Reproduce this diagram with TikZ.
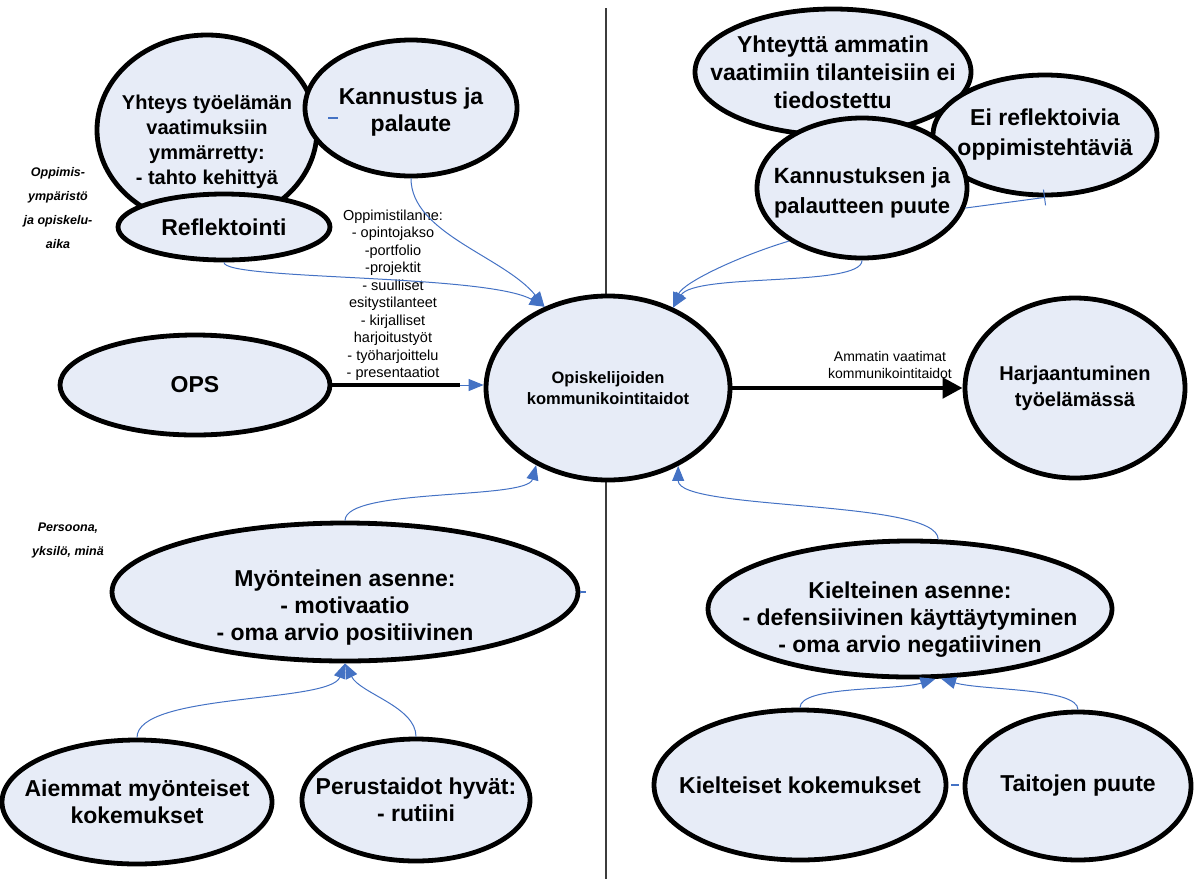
\documentclass[tikz,border=0pt]{standalone}
\usepackage{fontspec}
\setmainfont{Liberation Sans}
\usetikzlibrary{shapes.geometric,arrows.meta,calc}
\definecolor{bubfill}{RGB}{231,236,247}
\definecolor{linkblue}{RGB}{68,114,196}
\definecolor{divgray}{RGB}{60,60,60}
\tikzset{
	every node/.style = { align = center },
	bub/.style = { ellipse, draw, line width=4.8pt, fill=bubfill, inner sep=-60pt, font=\bfseries\fontsize{23}{27}\selectfont },
	bubs/.style = { bub, font=\bfseries\fontsize{20}{25}\selectfont },
	note/.style = { font=\fontsize{14.5}{17.5}\selectfont },
	side/.style = { font=\bfseries\itshape\fontsize{12.5}{24}\selectfont },
	link/.style = { draw=linkblue, line width=1pt, -{Triangle[length=15pt,width=12pt]} },
	stub/.style = { draw=linkblue, line width=1.2pt },
	flow/.style = { line width=4.8pt },
}
\begin{document}
\begin{tikzpicture}[x=1pt,y=-1pt]
\useasboundingbox (0,0) rectangle (1199,879);

\draw[divgray, line width=1.5pt] (606,8) -- (606,879);

\node (yht)    [bubs, text height=113pt, minimum width=220pt, minimum height=190pt] at (207,130) {Yhteys työelämän\\vaatimuksiin\\ymmärretty:\\- tahto kehittyä};
\node (kann)   [bub, text height=51pt, minimum width=212pt, minimum height=136pt] at (411,108) {Kannustus ja\\palaute};
\node (refl)   [bub, minimum width=212pt, minimum height=66pt] at (224,227) {Reflektointi};
\node (ops)    [bub, minimum width=270pt, minimum height=100pt] at (195,385) {OPS};
\node (opisk)  [bub, font=\bfseries\fontsize{16.5}{20.5}\selectfont, minimum width=244pt, minimum height=184pt] at (608,388) {Opiskelijoiden\\kommunikointitaidot};
\node (harj)   [bubs, font=\bfseries\fontsize{20}{26}\selectfont, minimum width=220pt, minimum height=180pt] at (1075,388) {Harjaantuminen\\työelämässä};

\node (yhtam)  [bub, font=\bfseries\fontsize{23}{28}\selectfont, minimum width=276pt, minimum height=126pt] at (833,72) {Yhteyttä ammatin\\vaatimiin tilanteisiin ei\\tiedostettu};
\node (erefl)  [bub, font=\bfseries\fontsize{23}{30}\selectfont, minimum width=224pt, minimum height=120pt] at (1045,135) {Ei reflektoivia\\oppimistehtäviä};
\node (kpuute) [bub, text height=55pt, font=\bfseries\fontsize{22}{30}\selectfont, minimum width=210pt, minimum height=140pt] at (862,188) {Kannustuksen ja\\palautteen puute};

\node (myont)  [bub, text height=102pt, minimum width=466pt, minimum height=138pt] at (345,592) {Myönteinen asenne:\\- motivaatio\\- oma arvio positiivinen};
\node (kielt)  [bub, text height=92pt, minimum width=404pt, minimum height=136pt] at (910,609) {Kielteinen asenne:\\- defensiivinen käyttäytyminen\\- oma arvio negatiivinen};
\node (aiem)   [bub, minimum width=270pt, minimum height=124pt] at (137,802) {Aiemmat myönteiset\\kokemukset};
\node (perus)  [bub, minimum width=228pt, minimum height=122pt] at (416,800) {Perustaidot hyvät:\\- rutiini};
\node (kielk)  [bub, minimum width=292pt, minimum height=150pt] at (800,785) {Kielteiset kokemukset};
\node (taito)  [bub, minimum width=226pt, minimum height=148pt] at (1078,786) {Taitojen puute};

\node (oppy)    [side] at (58,208) {Oppimis-\\ympäristö\\ja opiskelu-\\aika};
\node (pers)    [side] at (68,540) {Persoona,\\yksilö, minä};
\node (tilanne) [note] at (393,295) {Oppimistilanne:\\- opintojakso\\-portfolio\\-projektit\\- suulliset\\esitystilanteet\\- kirjalliset\\harjoitustyöt\\- työharjoittelu\\- presentaatiot};
\node (amm)     [note, font=\fontsize{14}{16.5}\selectfont] at (890,365) {Ammatin vaatimat\\kommunikointitaidot};

\draw[link] (kann.south) .. controls ($(kann.south)+(0,55)$) and ($(opisk.128)+(-40,-50)$) .. (opisk.128);
\draw[link] (refl.south) .. controls ($(refl.south)+(0,18)$) and ($(opisk.128)+(-58,-33)$) .. (opisk.128);
\draw[stub] ([shift={(-83,10)}]kann.center) -- ++(10,0);

\coordinate (opsend) at (460,385);
\draw[flow] (ops.east) -- (opsend);
\draw[link] (opsend) -- (opsend -| opisk.west);
\draw[flow, -{Triangle[length=20pt,width=20pt]}] (opisk.east) -- (harj.west);

\draw[link] (kpuute.-144) .. controls ($(kpuute.-144)+(-50,15)$) and ($(opisk.51)+(10,-25)$) .. (opisk.51);
\draw[link] (kpuute.south) .. controls ($(kpuute.south)+(0,27)$) and ($(opisk.51)+(22,-35)$) .. (opisk.51);
\draw[draw=linkblue, line width=1pt, -{Bar[width=16pt]}] (kpuute.-11) -- (erefl.south);

\draw[link] (myont.north) .. controls ($(myont.north)+(0,-33)$) and ($(opisk.-133)+(-9,35)$) .. (opisk.-133);
\draw[link] (kielt.68) .. controls ($(kielt.68)+(0,-40)$) and ($(opisk.-48)+(0,45)$) .. (opisk.-48);
\draw[stub] (myont.east) -- ++(6,0);

\draw[link] (aiem.north) .. controls ($(aiem.north)+(0,-45)$) and ($(myont.south)+(-15,40)$) .. (myont.south);
\draw[link] (perus.north) .. controls ($(perus.north)+(0,-30)$) and ($(myont.south)+(15,30)$) .. (myont.south);

\draw[link] (kielk.north) .. controls ($(kielk.north)+(0,-22)$) and ($(kielt.-70)+(-40,12)$) .. (kielt.-70);
\draw[link] (taito.north) .. controls ($(taito.north)+(0,-22)$) and ($(kielt.-66)+(40,12)$) .. (kielt.-66);
\draw[stub] ([xshift=3pt]kielk.east) -- ++(8,0);

\end{tikzpicture}
\end{document}
